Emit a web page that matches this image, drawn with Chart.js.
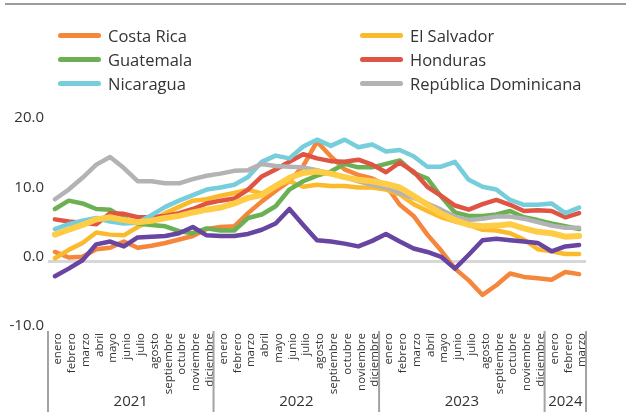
<!DOCTYPE html>
<html lang="es">
<head>
<meta charset="utf-8">
<script src="https://cdn.jsdelivr.net/npm/chart.js@4.4.1/dist/chart.umd.min.js"></script>
<style>
  html, body { margin: 0; padding: 0; background: #fff; }
  #wrap { position: relative; width: 626px; height: 412px; overflow: hidden; font-family: 'Open Sans', sans-serif; }
  #topline { position: absolute; left: 5px; right: 0; top: 3px; height: 2px; background: #9b9b9b; }
  canvas { position: absolute; left: 0; top: 0; }
  .item { position: absolute; display: flex; align-items: center; height: 20px; color: #333; font-size: 16.5px; white-space: nowrap; }
  .swatch { width: 43px; height: 5px; border-radius: 3px; margin-right: 7px; flex: none; }
</style>
</head>
<body>
<div id="wrap">
  <div id="topline"></div>
  <canvas id="c" width="626" height="412"></canvas>
  <div id="legend"></div>
</div>
<script>
// Meses (enero 2021 – marzo 2024) y agrupación por año
const meses = ['enero','febrero','marzo','abril','mayo','junio','julio','agosto','septiembre','octubre','noviembre','diciembre',
               'enero','febrero','marzo','abril','mayo','junio','julio','agosto','septiembre','octubre','noviembre','diciembre',
               'enero','febrero','marzo','abril','mayo','junio','julio','agosto','septiembre','octubre','noviembre','diciembre',
               'enero','febrero','marzo'];
const anios = ['2021', '2022', '2023', '2024'];
const mesesPorAnio = [12, 12, 12, 3];

// Variación interanual (%)
const costaRica = [1.4, 0.6, 0.7, 1.8, 2.0, 2.9, 2.0, 2.3, 2.7, 3.2, 3.7, 4.7, 5.0, 5.1, 7.0, 8.7, 10.2, 11.6, 13.8, 17.3,
                   15.2, 13.3, 12.5, 12.0, 11.0, 8.2, 6.6, 3.9, 1.6, -1.0, -2.7, -4.8, -3.4, -1.7, -2.2, -2.4, -2.6, -1.5, -1.8];
const elSalvador = [0.5, 1.7, 2.7, 4.2, 3.9, 3.8, 5.0, 5.9, 7.0, 7.9, 8.8, 9.0, 9.5, 9.9, 10.4, 9.8, 11.0, 11.6, 10.8, 11.1,
                    10.9, 10.9, 10.7, 10.7, 10.4, 9.7, 8.3, 7.3, 6.4, 5.8, 5.3, 4.6, 4.5, 4.1, 3.2, 1.8, 1.5, 1.1, 1.1];
const guatemala = [7.6, 8.8, 8.4, 7.6, 7.5, 6.3, 5.5, 5.3, 5.1, 4.4, 4.1, 4.8, 4.5, 4.5, 6.3, 6.8, 8.0, 10.4, 11.6, 12.4,
                   13.0, 14.1, 13.6, 13.6, 14.1, 14.6, 12.8, 12.0, 9.4, 7.1, 6.6, 6.6, 6.8, 7.3, 6.4, 6.0, 5.5, 5.1, 4.7];
const honduras = [6.1, 5.8, 5.6, 5.4, 7.0, 6.9, 6.4, 6.4, 6.6, 7.0, 7.6, 8.4, 8.8, 9.1, 10.4, 12.3, 13.3, 14.4, 15.5, 14.9,
                  14.5, 14.4, 14.7, 14.0, 12.9, 14.3, 13.0, 10.8, 9.5, 8.1, 7.5, 8.3, 8.9, 8.2, 7.3, 7.4, 7.3, 6.4, 7.0];
const nicaragua = [4.7, 5.4, 5.9, 6.3, 5.8, 5.5, 5.6, 6.7, 7.9, 8.8, 9.6, 10.4, 10.7, 11.1, 12.2, 14.4, 15.3, 14.9, 16.6, 17.6,
                   16.7, 17.6, 16.5, 16.9, 15.9, 16.1, 15.2, 13.7, 13.7, 14.4, 11.8, 10.8, 10.4, 8.9, 8.2, 8.2, 8.4, 7.0, 7.8];
const republicaDominicana = [9.0, 10.4, 12.1, 14.0, 15.1, 13.5, 11.6, 11.6, 11.3, 11.3, 11.9, 12.4, 12.7, 13.1, 13.2, 14.1, 13.8, 13.7, 13.6, 13.2,
                             12.7, 12.2, 11.6, 11.1, 10.7, 9.9, 9.2, 8.4, 7.5, 6.5, 6.0, 6.2, 6.5, 6.5, 6.2, 5.7, 5.2, 4.9, 4.9];
const serieMorada = [-2.1, -1.0, 0.2, 2.5, 2.9, 2.2, 3.5, 3.6, 3.7, 4.1, 5.0, 3.8, 3.7, 3.7, 4.0, 4.6, 5.5, 7.6, 5.3, 3.1,
                     2.9, 2.6, 2.2, 3.0, 4.0, 2.9, 1.9, 1.4, 0.7, -1.0, 1.0, 3.1, 3.3, 3.1, 2.9, 2.7, 1.5, 2.2, 2.4];
const serieAmarilla = [3.9, 4.6, 5.3, 6.1, 6.4, 6.0, 5.7, 5.9, 6.3, 6.6, 7.1, 7.5, 7.8, 8.4, 9.2, 9.6, 10.9, 12.1, 12.8, 13.0,
                       12.7, 12.2, 11.8, 11.6, 11.2, 10.7, 9.5, 8.2, 6.9, 6.0, 5.3, 5.1, 5.2, 5.4, 4.8, 4.3, 4.1, 3.6, 3.7];

// Escala vertical
const yMin = -10, yMax = 20, yPaso = 10;

const FONT = "'Open Sans', sans-serif";
const TEXTO = '#333333';

const series = [
  { label: 'Costa Rica', data: costaRica, color: '#F5873D', ancho: 4.5, leyenda: true },
  { label: 'El Salvador', data: elSalvador, color: '#FBB92C', ancho: 4.5, leyenda: true },
  { label: 'Guatemala', data: guatemala, color: '#6BB153', ancho: 4.5, leyenda: true },
  { label: 'Honduras', data: honduras, color: '#DF5442', ancho: 4.5, leyenda: true },
  { label: 'Nicaragua', data: nicaragua, color: '#76CDDB', ancho: 4.5, leyenda: true },
  { label: 'República Dominicana', data: republicaDominicana, color: '#B3B3B6', ancho: 4.5, leyenda: true },
  { label: 'Serie 7', data: serieMorada, color: '#6745A0', ancho: 4.5, leyenda: false },
  { label: 'Serie 8', data: serieAmarilla, color: '#FFCC45', ancho: 6, leyenda: false }
];

const datasets = series.map((s, i) => ({
  label: s.label,
  data: s.data,
  borderColor: s.color,
  backgroundColor: s.color,
  borderWidth: s.ancho,
  pointRadius: 0,
  tension: 0,
  fill: false,
  borderJoinStyle: 'round',
  borderCapStyle: 'round',
  order: series.length - i
}));

// Separadores y etiquetas de año bajo el eje de meses
const gruposAnio = {
  id: 'gruposAnio',
  afterDraw(chart) {
    const { ctx, scales: { x } } = chart;
    const mitad = (x.getPixelForValue(1) - x.getPixelForValue(0)) / 2;
    const yTop = chart.chartArea.bottom;
    const yBot = chart.height;
    ctx.save();
    ctx.strokeStyle = '#a3a3a3';
    ctx.lineWidth = 2;
    ctx.fillStyle = TEXTO;
    ctx.font = "15px " + FONT;
    ctx.textAlign = 'center';
    ctx.textBaseline = 'middle';
    let inicio = 0;
    anios.forEach((anio, k) => {
      const n = mesesPorAnio[k];
      const x0 = x.getPixelForValue(inicio) - mitad;
      const x1 = x.getPixelForValue(inicio + n - 1) + mitad;
      ctx.beginPath();
      ctx.moveTo(x0, yTop); ctx.lineTo(x0, yBot);
      if (k === anios.length - 1) { ctx.moveTo(x1, yTop); ctx.lineTo(x1, yBot); }
      ctx.stroke();
      ctx.fillText(anio, (x0 + x1) / 2, 402);
      inicio += n;
    });
    ctx.restore();
  }
};

const chart = new Chart(document.getElementById('c'), {
  type: 'line',
  data: { labels: meses, datasets },
  options: {
    responsive: false,
    devicePixelRatio: 1,
    animation: false,
    layout: { padding: { top: 123, right: 40, left: 0, bottom: 0 } },
    plugins: { legend: { display: false }, tooltip: { enabled: false } },
    scales: {
      x: {
        type: 'category',
        offset: true,
        grid: { display: false, drawTicks: false },
        border: { display: false },
        ticks: {
          autoSkip: false, minRotation: 90, maxRotation: 90,
          padding: 2, labelOffset: 3,
          color: TEXTO, font: { family: FONT, size: 11.5 }
        },
        afterFit: (s) => { s.height = 81; }
      },
      y: {
        min: yMin, max: yMax,
        border: { display: false },
        grid: {
          drawTicks: false,
          lineWidth: 3,
          color: (c) => (c.tick && c.tick.value === 0 ? '#d7d7d7' : 'rgba(0,0,0,0)')
        },
        ticks: {
          stepSize: yPaso, padding: 4, labelOffset: -5,
          color: TEXTO, font: { family: FONT, size: 15 },
          callback: (v) => Number(v).toFixed(1)
        },
        afterFit: (s) => { s.width = 48; }
      }
    }
  },
  plugins: [gruposAnio]
});

// Leyenda en dos columnas
const leyenda = document.getElementById('legend');
const cols = [58, 360], filas = [35, 59, 83];
series.filter(s => s.leyenda).forEach((s, i) => {
  const el = document.createElement('div');
  el.className = 'item';
  el.style.left = cols[i % 2] + 'px';
  el.style.top = (filas[Math.floor(i / 2)] - 10) + 'px';
  const sw = document.createElement('span');
  sw.className = 'swatch';
  sw.style.background = s.color;
  const tx = document.createElement('span');
  tx.textContent = s.label;
  el.appendChild(sw); el.appendChild(tx);
  leyenda.appendChild(el);
});
</script>
</body>
</html>
